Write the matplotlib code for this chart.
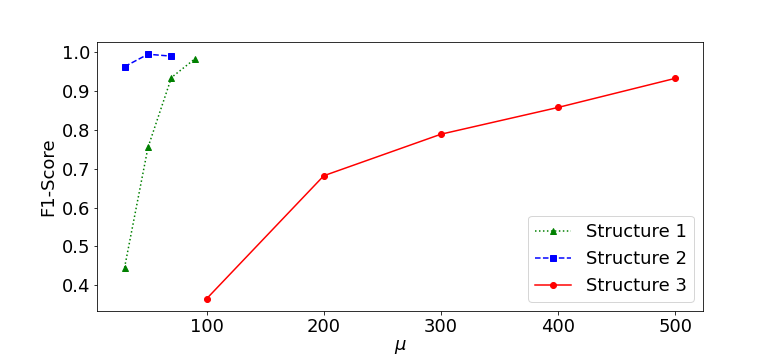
import matplotlib
matplotlib.use('Agg')
import matplotlib.pyplot as plt

# data
mu1 = [30, 50, 70, 90]
f1_s1 = [0.445, 0.755, 0.935, 0.983]

mu2 = [30, 50, 70]
f1_s2 = [0.963, 0.995, 0.990]

mu3 = [100, 200, 300, 400, 500]
f1_s3 = [0.365, 0.682, 0.789, 0.858, 0.933]

yticks = [0.4, 0.5, 0.6, 0.7, 0.8, 0.9, 1.0]
xticks = [100, 200, 300, 400, 500]

plt.rcParams['font.size'] = 18

DPI = 72
fig, ax = plt.subplots(figsize=(781 / DPI, 355 / DPI), dpi=DPI)
fig.subplots_adjust(left=97 / 781, right=703 / 781, top=1 - 42 / 355, bottom=1 - 311 / 355)

ax.plot(mu1, f1_s1, 'g:^', label='Structure 1')
ax.plot(mu2, f1_s2, 'b--s', label='Structure 2')
ax.plot(mu3, f1_s3, 'r-o', label='Structure 3')

ax.set_xlabel(r'$\mu$', labelpad=2)
ax.set_ylabel('F1-Score')
ax.set_xticks(xticks)
ax.set_yticks(yticks)
ax.legend(loc='lower right')

fig.savefig('out.png', dpi=DPI)
